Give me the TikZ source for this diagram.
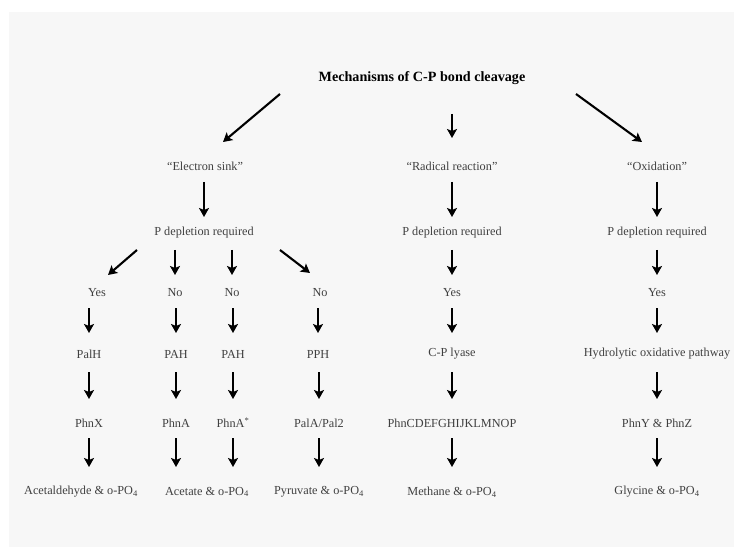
\documentclass[tikz,border=0pt]{standalone}
\usepackage{fontspec}
\setmainfont{Liberation Serif}
\usetikzlibrary{arrows.meta,calc}
\definecolor{panel}{HTML}{F7F7F7}
\definecolor{txt}{HTML}{404040}
\newcommand\varr[4]{\draw[arr] ([shift={(0,#3)}]#2.center |- #1.center) -- ([shift={(0,-#4)}]#2.center);}
\newcommand\varru[4]{\draw[arr] ([shift={(0,#3)}]#1.center) -- ([shift={(0,-#4)}]#1.center |- #2.center);}
\begin{document}
\begin{tikzpicture}[x=1bp,y=-1bp,
  lbl/.style={inner sep=0pt, text=txt, font=\fontsize{12.3}{14}\selectfont},
  ttl/.style={inner sep=0pt, text=black, font=\fontsize{14.2}{16}\selectfont\bfseries},
  arr/.style={-{Stealth[length=9bp,width=10bp,inset=2bp]}, line width=2.1bp, black}]
\useasboundingbox (0,0) rectangle (734,547);
\fill[white] (0,0) rectangle (734,547);
\fill[panel] (9,12) rectangle (734,547);

\node[ttl] (title) at (422,78) {Mechanisms of C-P bond cleavage};

\node[lbl] (esink)   at (205,166) {``Electron sink''};
\node[lbl] (radical) at (452,166) {``Radical reaction''};
\node[lbl] (oxid)    at (657,166) {``Oxidation''};

\node[lbl] (pd1) at (204,233) {P depletion required};
\node[lbl] (pd2) at (452,233) {P depletion required};
\node[lbl] (pd3) at (657,233) {P depletion required};

\node[lbl] (yes1) at (97,293)  {Yes};
\node[lbl] (no1)  at (175,293) {No};
\node[lbl] (no2)  at (232,293) {No};
\node[lbl] (no3)  at (320,293) {No};
\node[lbl] (yes2) at (452,293) {Yes};
\node[lbl] (yes3) at (657,293) {Yes};

\node[lbl] (palh) at (89,354)  {PalH};
\node[lbl] (pah1) at (176,354) {PAH};
\node[lbl] (pah2) at (233,354) {PAH};
\node[lbl] (pph)  at (318,354) {PPH};
\node[lbl] (cpl)  at (452,354) {C-P lyase};
\node[lbl] (hop)  at (657,354) {Hydrolytic oxidative pathway};

\node[lbl] (phnx)  at (89,423)  {PhnX};
\node[lbl] (phna)  at (176,423) {PhnA};
\node[lbl] (phnas) at (233,423) {PhnA\textsuperscript{*}};
\node[lbl] (pala)  at (319,423) {PalA/Pal2};
\node[lbl] (phnc)  at (452,423) {PhnCDEFGHIJKLMNOP};
\node[lbl] (phny)  at (657,423) {PhnY \& PhnZ};

\node[lbl] (acet)    at (81,492)  {Acetaldehyde \& o-PO\textsubscript{4}};
\node[lbl] (acetate) at (207,492) {Acetate \& o-PO\textsubscript{4}};
\node[lbl] (pyr)     at (319,492) {Pyruvate \& o-PO\textsubscript{4}};
\node[lbl] (meth)    at (452,492) {Methane \& o-PO\textsubscript{4}};
\node[lbl] (gly)     at (657,492) {Glycine \& o-PO\textsubscript{4}};

% top level
\draw[arr] ([shift={(-142,16)}]title.center) -- ([shift={(18,-24)}]esink.center);
\draw[arr] ([shift={(0,-52)}]radical.center) -- ([shift={(0,-28)}]radical.center);
\draw[arr] ([shift={(154,16)}]title.center) -- ([shift={(-15,-24)}]oxid.center);

% level 2
\varr{esink}{pd1}{16}{16}
\varr{radical}{pd2}{16}{16}
\varr{oxid}{pd3}{16}{16}

% level 3
\draw[arr] ([shift={(-67,17)}]pd1.center) -- ([shift={(11,-18)}]yes1.center);
\varr{pd1}{no1}{17}{18}
\varr{pd1}{no2}{17}{18}
\draw[arr] ([shift={(76,17)}]pd1.center) -- ([shift={(-10,-20)}]no3.center);
\varr{pd2}{yes2}{17}{18}
\varr{pd3}{yes3}{17}{18}

% level 4
\varr{yes1}{palh}{15}{21}
\varr{no1}{pah1}{15}{21}
\varr{no2}{pah2}{15}{21}
\varr{no3}{pph}{15}{21}
\varr{yes2}{cpl}{15}{21}
\varr{yes3}{hop}{15}{21}

% level 5
\varr{palh}{phnx}{18}{24}
\varr{pah1}{phna}{18}{24}
\varr{pah2}{phnas}{18}{24}
\varr{pph}{pala}{18}{24}
\varr{cpl}{phnc}{18}{24}
\varr{hop}{phny}{18}{24}

% level 6
\varru{phnx}{acet}{15}{25}
\varru{phna}{acetate}{15}{25}
\varru{phnas}{acetate}{15}{25}
\varru{pala}{pyr}{15}{25}
\varru{phnc}{meth}{15}{25}
\varru{phny}{gly}{15}{25}
\end{tikzpicture}
\end{document}
